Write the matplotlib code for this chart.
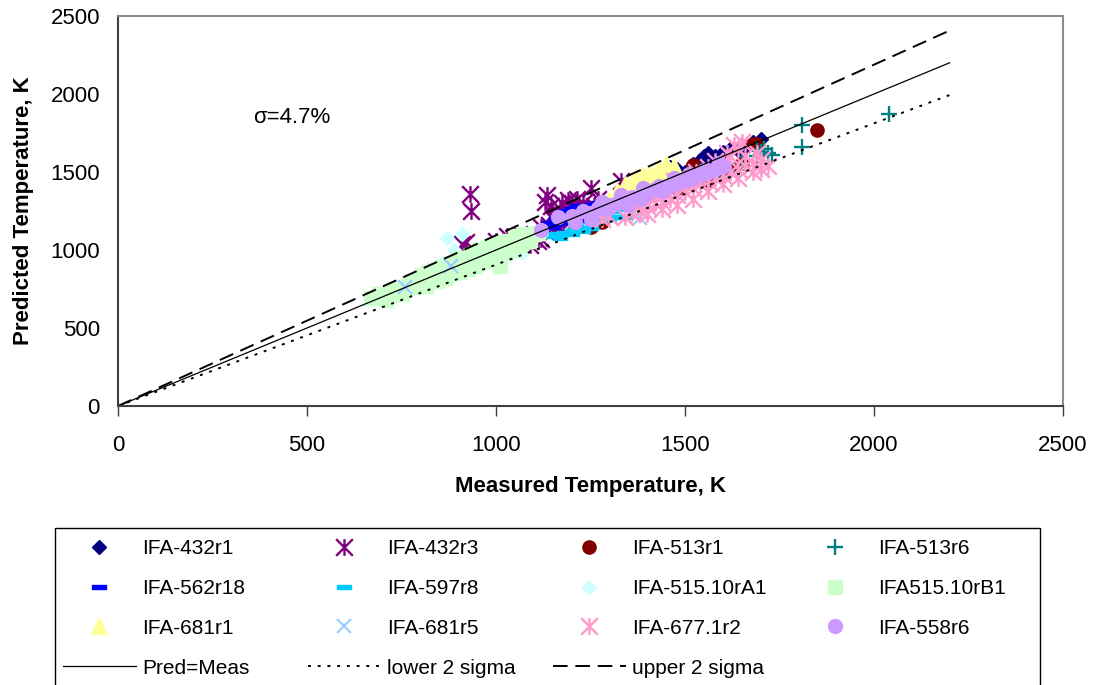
import matplotlib
matplotlib.use("Agg")
import matplotlib.pyplot as plt
from matplotlib.path import Path
from matplotlib.patches import Rectangle

plt.rcParams["font.family"] = ["Liberation Sans", "DejaVu Sans"]

# ---- data (measured vs predicted, K) ----
ifa_432r1_x = [1430, 1450, 1460, 1480, 1500, 1510, 1520, 1540, 1550, 1560, 1570, 1580, 1600, 1620, 1640, 1660, 1680, 1700]
ifa_432r1_y = [1490, 1470, 1530, 1520, 1500, 1470, 1550, 1580, 1600, 1620, 1560, 1600, 1630, 1650, 1640, 1660, 1690, 1710]

ifa_432r3_x = [930, 935, 920, 910, 1000, 1030, 1060, 1080, 1090, 1100, 1110, 1120, 1120, 1130, 1135, 1130, 1140, 1145,
               1150, 1150, 1150, 1160, 1160, 1170, 1170, 1175, 1180, 1180, 1190, 1190, 1200, 1200, 1205, 1210, 1215,
               1220, 1225, 1230, 1240, 1240, 1250, 1260, 1270, 1280, 1330]
ifa_432r3_y = [1360, 1250, 1050, 1040, 1060, 1090, 1050, 1070, 1030, 1100, 1060, 1070, 1150, 1120, 1350, 1310, 1160, 1280,
               1230, 1200, 1120, 1190, 1240, 1260, 1140, 1300, 1170, 1220, 1320, 1250, 1180, 1300, 1270, 1240, 1330,
               1210, 1270, 1300, 1260, 1230, 1395, 1280, 1330, 1290, 1440]

ifa_513r1_x = [1210, 1250, 1280, 1400, 1440, 1480, 1520, 1560, 1600, 1620, 1650, 1680, 1690, 1850]
ifa_513r1_y = [1160, 1150, 1180, 1350, 1420, 1400, 1545, 1450, 1500, 1520, 1560, 1680, 1680, 1770]

ifa_513r6_x = [1520, 1540, 1580, 1600, 1620, 1650, 1690, 1690, 1700, 1700, 1710, 1720, 1730, 1810, 1810, 2040]
ifa_513r6_y = [1420, 1450, 1480, 1470, 1500, 1560, 1600, 1640, 1610, 1630, 1650, 1620, 1610, 1660, 1800, 1870]

ifa_562r18_x = [850, 900, 950, 1000, 1110, 1125, 1140, 1150, 1160, 1160, 1170, 1170, 1180, 1185, 1190, 1190, 1200,
                1200, 1210, 1215, 1220, 1220, 1230, 1240, 1250, 1270, 1290]
ifa_562r18_y = [880, 930, 960, 990, 1100, 1110, 1170, 1150, 1170, 1200, 1180, 1230, 1200, 1250, 1210, 1180, 1200,
                1260, 1220, 1280, 1240, 1195, 1230, 1260, 1290, 1300, 1320]

ifa_597r8_x = [1140, 1160, 1170, 1180, 1200, 1200, 1220, 1230, 1240, 1250, 1260, 1280, 1290, 1300, 1310, 1320, 1340, 1350, 1370]
ifa_597r8_y = [1090, 1100, 1080, 1110, 1130, 1100, 1150, 1120, 1160, 1140, 1180, 1190, 1230, 1200, 1250, 1210, 1210, 1260, 1280]

ifa_515_10ra1_x = [680, 700, 720, 740, 750, 760, 772, 780, 790, 800, 810, 830, 840, 850, 860, 870, 880, 890, 900, 910,
                   920, 930, 950, 960, 980, 990, 1010, 1030, 1040, 1060, 1070, 1090, 1100, 1120]
ifa_515_10ra1_y = [690, 700, 720, 760, 740, 790, 744, 770, 810, 820, 790, 840, 830, 870, 920, 1075, 850, 1000, 870, 1100,
                   900, 960, 930, 990, 960, 1010, 1000, 1060, 1020, 1090, 980, 1050, 1080, 1100]

ifa_515_10rb1_x = [670, 690, 700, 710, 720, 730, 740, 750, 760, 770, 780, 790, 790, 800, 805, 810, 815, 820, 820, 830,
                   835, 840, 845, 850, 850, 855, 860, 865, 870, 870, 875, 880, 880, 885, 890, 895, 900, 900, 905,
                   910, 915, 920, 925, 930, 935, 940, 945, 950, 950, 955, 960, 965, 970, 975, 980, 985, 990, 995,
                   1000, 1000, 1005, 1010, 1015, 1020, 1025, 1030, 1035, 1040, 1045, 1050, 1055, 1060, 1065, 1075,
                   1080, 1090, 1100, 1110]
ifa_515_10rb1_y = [690, 720, 700, 680, 710, 750, 730, 720, 750, 790, 770, 800, 760, 780, 840, 810, 770, 800, 860, 830,
                   870, 820, 800, 850, 820, 890, 860, 820, 840, 880, 910, 870, 900, 850, 880, 930, 900, 950, 860,
                   890, 950, 920, 880, 910, 970, 940, 900, 930, 980, 1000, 960, 920, 950, 1010, 980, 940, 970, 1020,
                   1000, 1040, 960, 900, 1050, 1010, 980, 1030, 1060, 1040, 1000, 1080, 1090, 1060, 1030, 1100,
                   1080, 1060, 1100, 1110]

ifa_681r1_x = [1300, 1320, 1340, 1350, 1360, 1370, 1380, 1380, 1390, 1400, 1410, 1420, 1420, 1430, 1440, 1450, 1460, 1470]
ifa_681r1_y = [1320, 1380, 1420, 1390, 1440, 1470, 1430, 1400, 1480, 1460, 1500, 1470, 1440, 1520, 1490, 1550, 1510, 1540]

ifa_681r5_x = [760, 880, 1200, 1250, 1280, 1320, 1380, 1400, 1450, 1500, 1550]
ifa_681r5_y = [760, 900, 1170, 1200, 1230, 1260, 1205, 1300, 1380, 1420, 1470]

ifa_677_1r2_x = [1280, 1300, 1340, 1360, 1380, 1380, 1400, 1400, 1420, 1420, 1440, 1440, 1450, 1460, 1470, 1480, 1480,
                 1500, 1500, 1520, 1520, 1530, 1540, 1550, 1560, 1560, 1560, 1580, 1580, 1600, 1600, 1600, 1610, 1620,
                 1620, 1630, 1640, 1640, 1640, 1650, 1660, 1660, 1680, 1680, 1690, 1700, 1700, 1720]
ifa_677_1r2_y = [1200, 1220, 1210, 1240, 1250, 1300, 1280, 1230, 1300, 1350, 1310, 1260, 1380, 1330, 1440, 1350, 1290,
                 1370, 1420, 1400, 1330, 1500, 1420, 1470, 1440, 1530, 1380, 1460, 1570, 1480, 1550, 1420, 1620, 1500,
                 1600, 1670, 1520, 1650, 1460, 1690, 1540, 1600, 1560, 1500, 1620, 1580, 1520, 1540]

ifa_558r6_x = [1120, 1165, 1200, 1210, 1230, 1250, 1250, 1270, 1280, 1290, 1300, 1320, 1330, 1340, 1350, 1360, 1380,
               1390, 1400, 1420, 1430, 1440, 1460, 1470, 1480, 1500, 1510, 1520, 1540, 1550, 1560, 1580, 1590, 1600]
ifa_558r6_y = [1130, 1210, 1220, 1180, 1250, 1240, 1200, 1270, 1310, 1260, 1290, 1300, 1350, 1320, 1290, 1340, 1330,
               1400, 1360, 1390, 1410, 1380, 1410, 1460, 1430, 1440, 1490, 1460, 1480, 1510, 1500, 1520, 1560, 1540]

line_x = [0, 2200]
pred_meas = [0, 2200]
sigma = 0.047
lower_2s = [v * (1 - 2 * sigma) for v in pred_meas]
upper_2s = [v * (1 + 2 * sigma) for v in pred_meas]

# ---- marker shapes (Excel style) ----
star = Path([(-1, -1), (1, 1), (-1, 1), (1, -1), (0, -1), (0, 1)],
            [Path.MOVETO, Path.LINETO, Path.MOVETO, Path.LINETO, Path.MOVETO, Path.LINETO])
dash = Path([(-1, -0.32), (1, -0.32), (1, 0.32), (-1, 0.32), (-1, -0.32)],
            [Path.MOVETO, Path.LINETO, Path.LINETO, Path.LINETO, Path.CLOSEPOLY])

series = [
    ("IFA-432r1", ifa_432r1_x, ifa_432r1_y, dict(marker="D", ms=7.5, color="#000080")),
    ("IFA-432r3", ifa_432r3_x, ifa_432r3_y, dict(marker=star, ms=12, mew=1.7, mfc="none", color="#800080")),
    ("IFA-513r1", ifa_513r1_x, ifa_513r1_y, dict(marker="o", ms=9.5, color="#800000")),
    ("IFA-513r6", ifa_513r6_x, ifa_513r6_y, dict(marker="+", ms=11, mew=1.7, color="#008080")),
    ("IFA-562r18", ifa_562r18_x, ifa_562r18_y, dict(marker=dash, ms=10, color="#0000FF")),
    ("IFA-597r8", ifa_597r8_x, ifa_597r8_y, dict(marker=dash, ms=10, color="#00CCFF")),
    ("IFA-515.10rA1", ifa_515_10ra1_x, ifa_515_10ra1_y, dict(marker="D", ms=7.5, color="#CCFFFF")),
    ("IFA515.10rB1", ifa_515_10rb1_x, ifa_515_10rb1_y, dict(marker="s", ms=9.5, color="#CCFFCC")),
    ("IFA-681r1", ifa_681r1_x, ifa_681r1_y, dict(marker="^", ms=11, color="#FFFF99")),
    ("IFA-681r5", ifa_681r5_x, ifa_681r5_y, dict(marker="x", ms=10, mew=1.5, color="#99CCFF")),
    ("IFA-677.1r2", ifa_677_1r2_x, ifa_677_1r2_y, dict(marker=star, ms=12, mew=1.7, mfc="none", color="#FF99CC")),
    ("IFA-558r6", ifa_558r6_x, ifa_558r6_y, dict(marker="o", ms=10, color="#CC99FF")),
]

fig = plt.figure(figsize=(10.95, 6.85), dpi=100)
ax = fig.add_axes([118 / 1095, 1 - 406 / 685, 945 / 1095, 390 / 685])

handles = {}
for name, xs, ys, style in series:
    (h,) = ax.plot(xs, ys, linestyle="none", mec=style["color"], **style)
    handles[name] = h

(h_pm,) = ax.plot(line_x, pred_meas, color="black", lw=0.9)
(h_lo,) = ax.plot(line_x, lower_2s, color="black", lw=1.4, linestyle=(0, (1.5, 3.5)))
(h_up,) = ax.plot(line_x, upper_2s, color="black", lw=1.4, linestyle=(0, (7.5, 4)))
handles["Pred=Meas"] = h_pm
handles["lower 2 sigma"] = h_lo
handles["upper 2 sigma"] = h_up

ax.set_xlim(0, 2500)
ax.set_ylim(0, 2500)
ax.set_xticks(range(0, 2501, 500))
ax.set_yticks(range(0, 2501, 500))
ax.tick_params(axis="x", direction="out", length=7, width=1, pad=14, labelsize=16, color="#404040")
ax.tick_params(axis="y", length=0, pad=13, labelsize=16)
for side in ("left", "bottom"):
    ax.spines[side].set_color("#404040")
    ax.spines[side].set_linewidth(1.5)
for side in ("top", "right"):
    ax.spines[side].set_color("#8c8c8c")
    ax.spines[side].set_linewidth(1.5)

ax.set_xlabel("Measured Temperature, K", fontsize=16, fontweight="bold", labelpad=14)
ax.set_ylabel("Predicted Temperature, K", fontsize=16, fontweight="bold", labelpad=12)
ax.text(357, 1850, "σ=4.7%", fontsize=16, va="center", ha="left")

# ---- legend: four columns laid out like the Excel legend ----
columns = [
    ["IFA-432r1", "IFA-562r18", "IFA-681r1", "Pred=Meas"],
    ["IFA-432r3", "IFA-597r8", "IFA-681r5", "lower 2 sigma"],
    ["IFA-513r1", "IFA-515.10rA1", "IFA-677.1r2", "upper 2 sigma"],
    ["IFA-513r6", "IFA515.10rB1", "IFA-558r6"],
]
col_x = [63, 308, 553, 799]
for cx, names in zip(col_x, columns):
    fig.legend([handles[n] for n in names], names, loc="upper left",
               bbox_to_anchor=(cx / 1095, 1 - 539 / 685), frameon=False, fontsize=15,
               borderpad=0, borderaxespad=0, handlelength=3.5, handletextpad=0.3,
               labelspacing=1.0, numpoints=1)

fig.patches.append(Rectangle((55 / 1095, -0.05), 985 / 1095, (685 - 528) / 685 + 0.05,
                             transform=fig.transFigure, fill=False, edgecolor="black", lw=1))

fig.savefig("out.png", dpi=100)
